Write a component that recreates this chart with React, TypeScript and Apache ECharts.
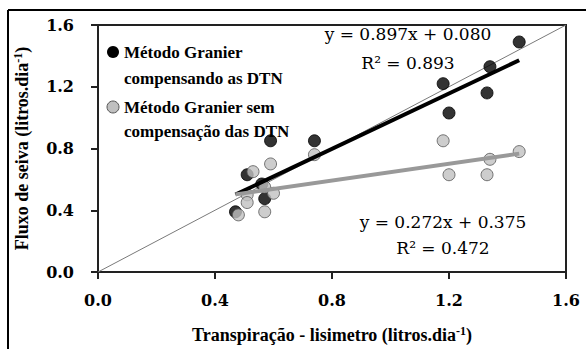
import React, { useEffect, useRef } from "react";
import * as echarts from "echarts";

// Método Granier compensando as DTN (black)
const compX = [1.44, 1.34, 1.18, 1.33, 1.2, 0.74, 0.59, 0.51, 0.56, 0.57, 0.47];
const compY = [1.49, 1.33, 1.22, 1.16, 1.03, 0.85, 0.85, 0.63, 0.57, 0.475, 0.39];
// Método Granier sem compensação das DTN (gray)
const semX = [1.44, 1.34, 1.18, 1.2, 1.33, 0.74, 0.59, 0.53, 0.57, 0.6, 0.51, 0.51, 0.57, 0.48];
const semY = [0.78, 0.73, 0.85, 0.63, 0.63, 0.76, 0.7, 0.65, 0.55, 0.51, 0.5, 0.45, 0.39, 0.37];

const slopes = [0.897, 0.272];
const intercepts = [0.08, 0.375];
const r2 = [0.893, 0.472];
const fitRange = [0.47, 1.44];
const identity = [0, 1.6];

const axisTicks = [0, 0.4, 0.8, 1.2, 1.6];

const seriesNames = ["Método Granier\ncompensando as DTN", "Método Granier sem\ncompensação das DTN"];

const TICKFONT = "DejaVu Serif";
const SERIF = "Liberation Serif";

function fitLine(i: number) {
  return fitRange.map((x) => [x, slopes[i] * x + intercepts[i]]);
}

export default function App() {
  const ref = useRef<HTMLDivElement>(null);
  useEffect(() => {
    if (!ref.current) return;
    const chart = echarts.init(ref.current, null, { renderer: "svg" });
    const sup = { fontFamily: SERIF, fontWeight: "bold", fontSize: 12, color: "#000", verticalAlign: "top", padding: [0, 0, 8, 0] };
    const base = { fontFamily: SERIF, fontWeight: "bold", fontSize: 18, color: "#000" };
    const eqFont = `17px '${TICKFONT}'`;
    chart.setOption({
      animation: false,
      backgroundColor: "#fff",
      grid: { left: 98, top: 25, right: 20, bottom: 68, show: true, borderColor: "#222", borderWidth: 2 },
      xAxis: {
        type: "value",
        min: axisTicks[0],
        max: axisTicks[axisTicks.length - 1],
        interval: 0.4,
        splitLine: { show: false },
        axisLine: { show: true, lineStyle: { color: "#222", width: 2 } },
        axisTick: { show: true, length: 7, lineStyle: { color: "#222", width: 2 } },
        axisLabel: { margin: 20, fontFamily: TICKFONT, fontWeight: "bold", fontSize: 16, color: "#000", formatter: (v: number) => v.toFixed(1) },
        name: "{a|Transpiração - lisimetro (litros.dia}{s|-1}{a|)}",
        nameLocation: "middle",
        nameGap: 53,
        nameTextStyle: { rich: { a: base, s: sup } },
      },
      yAxis: {
        type: "value",
        min: axisTicks[0],
        max: axisTicks[axisTicks.length - 1],
        interval: 0.4,
        splitLine: { show: false },
        axisLine: { show: true, lineStyle: { color: "#222", width: 2 } },
        axisTick: { show: true, length: 7, lineStyle: { color: "#222", width: 2 } },
        axisLabel: { margin: 24, fontFamily: TICKFONT, fontWeight: "bold", fontSize: 16, color: "#000", formatter: (v: number) => v.toFixed(1) },
        name: "{a|Fluxo de seiva (litros.dia}{s|-1}{a|)}",
        nameLocation: "middle",
        nameGap: 66,
        nameTextStyle: { rich: { a: base, s: sup } },
      },
      graphic: [
        { type: "line", shape: { x1: 8, y1: 10, x2: 586, y2: 10 }, style: { stroke: "#000", lineWidth: 2 } },
        { type: "line", shape: { x1: 8, y1: 10, x2: 8, y2: 349 }, style: { stroke: "#000", lineWidth: 2 } },
        { type: "circle", shape: { cx: 113, cy: 52, r: 6 }, style: { fill: "#000" }, z: 10 },
        { type: "text", x: 124, y: 52, style: { text: seriesNames[0], font: `bold 17px '${SERIF}'`, fill: "#000", verticalAlign: "top", lineHeight: 26, y: -13 }, z: 10 },
        { type: "circle", shape: { cx: 113, cy: 107, r: 6 }, style: { fill: "#c0c0c0", stroke: "#555", lineWidth: 1 }, z: 10 },
        { type: "text", x: 124, y: 107, style: { text: seriesNames[1], font: `bold 17px '${SERIF}'`, fill: "#000", verticalAlign: "top", lineHeight: 24, y: -12 }, z: 10 },
        { type: "text", x: 408, y: 34, style: { text: `y = ${slopes[0].toFixed(3)}x + ${intercepts[0].toFixed(3)}`, font: eqFont, fill: "#000", align: "center", verticalAlign: "middle" }, z: 10 },
        { type: "text", x: 408, y: 63, style: { text: `R² = ${r2[0].toFixed(3)}`, font: eqFont, fill: "#000", align: "center", verticalAlign: "middle" }, z: 10 },
        { type: "text", x: 443, y: 222, style: { text: `y = ${slopes[1].toFixed(3)}x + ${intercepts[1].toFixed(3)}`, font: eqFont, fill: "#000", align: "center", verticalAlign: "middle" }, z: 10 },
        { type: "text", x: 443, y: 248, style: { text: `R² = ${r2[1].toFixed(3)}`, font: eqFont, fill: "#000", align: "center", verticalAlign: "middle" }, z: 10 },
      ],
      series: [
        {
          type: "line",
          data: identity.map((v) => [v, v]),
          symbol: "none",
          lineStyle: { color: "#7a7a7a", width: 1 },
          z: 1,
        },
        {
          name: seriesNames[0],
          type: "scatter",
          data: compX.map((x, i) => [x, compY[i]]),
          symbolSize: 12,
          itemStyle: { color: "#000", borderColor: "#000", borderWidth: 1 },
          z: 2,
        },
        {
          name: seriesNames[1],
          type: "scatter",
          data: semX.map((x, i) => [x, semY[i]]),
          symbolSize: 12,
          itemStyle: { color: "#c0c0c0", borderColor: "#555", borderWidth: 1 },
          z: 3,
        },
        {
          type: "line",
          data: fitLine(0),
          symbol: "none",
          lineStyle: { color: "#000", width: 4 },
          z: 4,
        },
        {
          type: "line",
          data: fitLine(1),
          symbol: "none",
          lineStyle: { color: "#999", width: 4 },
          z: 5,
        },
      ],
    });
    return () => chart.dispose();
  }, []);
  return <div ref={ref} style={{ position: "fixed", left: 0, top: 0, width: 586, height: 349 }} />;
}
